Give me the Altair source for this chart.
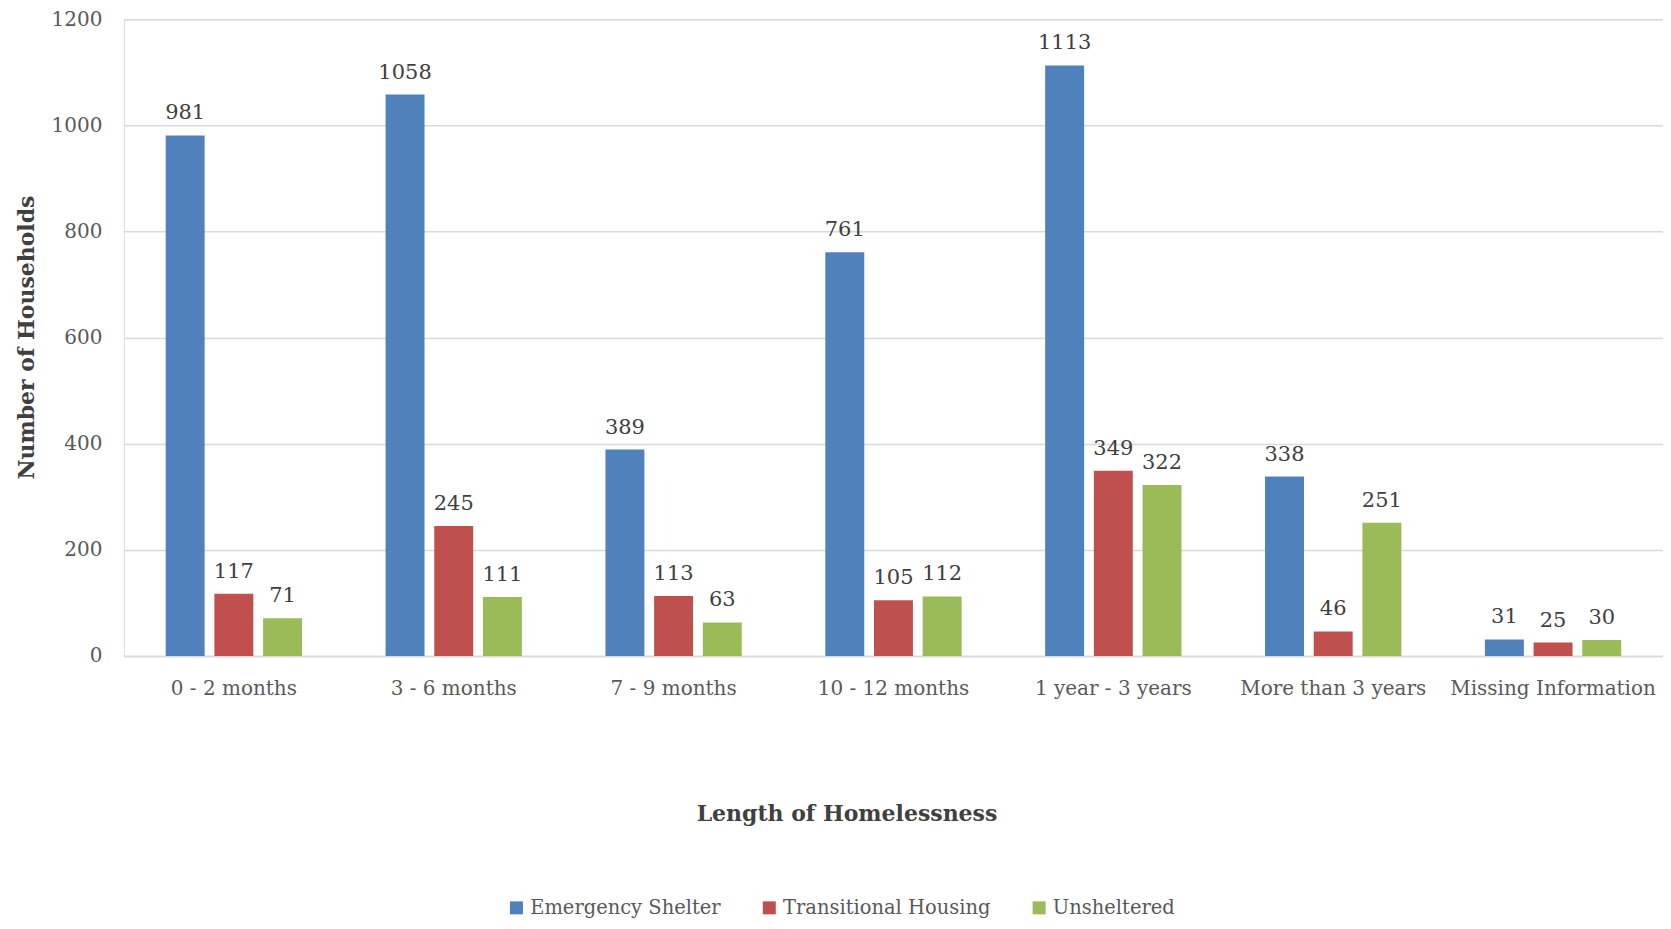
import altair as alt
import pandas as pd

categories = ["0 - 2 months", "3 - 6 months", "7 - 9 months", "10 - 12 months",
              "1 year - 3 years", "More than 3 years", "Missing Information"]
series = ["Emergency Shelter", "Transitional Housing", "Unsheltered"]
emergency = [981, 1058, 389, 761, 1113, 338, 31]
transitional = [117, 245, 113, 105, 349, 46, 25]
unsheltered = [71, 111, 63, 112, 322, 251, 30]
colors = ["#4F81BD", "#C0504D", "#9BBB59"]

rows = []
for name, vals in zip(series, [emergency, transitional, unsheltered]):
    for c, v in zip(categories, vals):
        rows.append({"cat": c, "series": name, "value": v})
df = pd.DataFrame(rows)

FONT = "DejaVu Serif"
TXT = "#404040"

x = alt.X("cat:N", sort=categories,
          scale=alt.Scale(paddingInner=0.38, paddingOuter=0.19),
          axis=alt.Axis(title="Length of Homelessness", labelAngle=0, ticks=False, tickSize=0,
                        labelPadding=23, labelFontSize=20, labelColor="#595959", labelFont=FONT,
                        labelLimit=0,
                        domainColor="#D9D9D9", domainWidth=1.5,
                        titleFont=FONT, titleFontSize=22, titleFontWeight="bold", titleColor=TXT,
                        titleX=723, titleY=165, titleBaseline="alphabetic", titleAlign="center"))
xo = alt.XOffset("series:N", sort=series, scale=alt.Scale(paddingInner=0.2, paddingOuter=0))
y = alt.Y("value:Q", scale=alt.Scale(domain=[0, 1200]),
          axis=alt.Axis(title="Number of Households", values=[0, 200, 400, 600, 800, 1000, 1200],
                        format="d",
                        ticks=False, tickSize=0, domain=False, labelPadding=22,
                        labelFontSize=20, labelColor="#595959", labelFont=FONT,
                        gridColor="#D9D9D9", gridWidth=1.5,
                        titleFont=FONT, titleFontSize=22, titleFontWeight="bold", titleColor=TXT,
                        titleAngle=-90, titleX=-90, titleY=318, titleBaseline="alphabetic",
                        titleAlign="center"))

color = alt.Color("series:N", sort=series,
                  scale=alt.Scale(domain=series, range=colors),
                  legend=alt.Legend(title=None, orient="none", direction="horizontal",
                                    legendX=383, legendY=879, symbolType="square",
                                    symbolSize=169, symbolStrokeWidth=0, labelOffset=4,
                                    columnPadding=38, labelFontSize=19.5, labelFont=FONT,
                                    labelColor="#595959", labelLimit=0, padding=0))

bars = alt.Chart(df).mark_bar().encode(x=x, xOffset=xo, y=y, color=color)
labels = alt.Chart(df).mark_text(baseline="alphabetic", dy=-16, fontSize=21, font=FONT,
                                 color=TXT).encode(
    x=alt.X("cat:N", sort=categories), xOffset=alt.XOffset("series:N", sort=series),
    y="value:Q", text="value:Q")

chart = alt.layer(bars, labels).properties(
    width=1540, height=637,
    autosize=alt.AutoSizeParams(type="none"),
    padding={"left": 116, "top": 11, "right": 0, "bottom": 265},
).configure_view(stroke=None).configure(font=FONT)

chart.save("out.html", embed_options={"renderer": "svg", "actions": False})
